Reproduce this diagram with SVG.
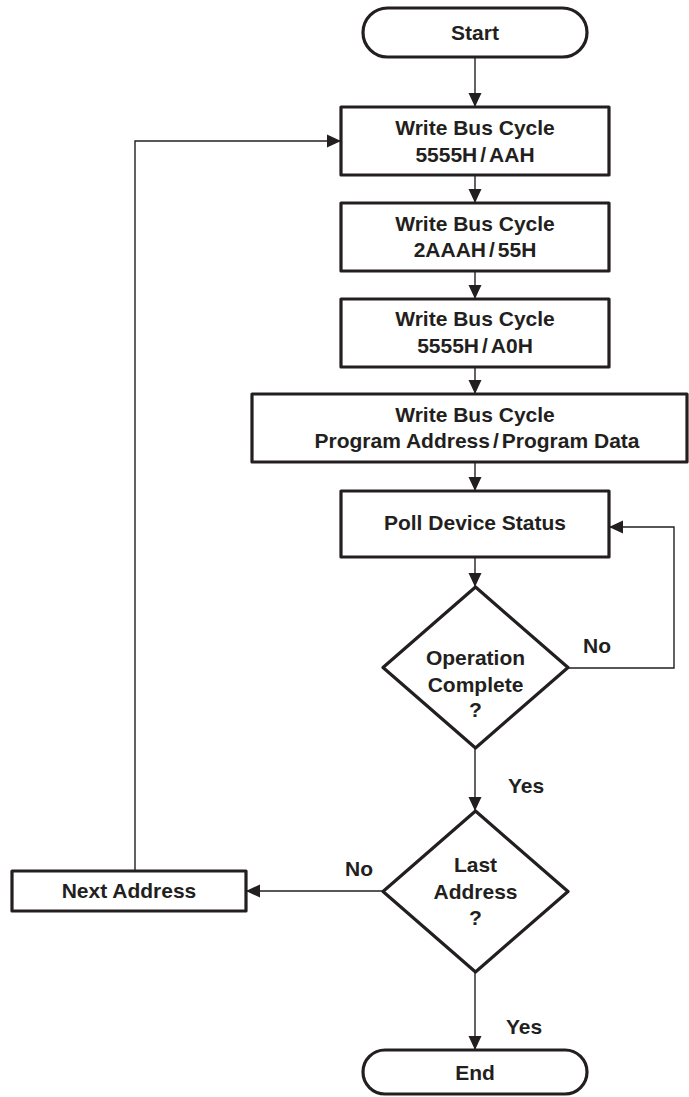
<svg xmlns="http://www.w3.org/2000/svg" width="689" height="1097" viewBox="0 0 689 1097">
<defs>
<marker id="arr" markerUnits="userSpaceOnUse" markerWidth="14" markerHeight="14" viewBox="0 0 14 14" refX="14" refY="7" orient="auto">
<path d="M0,0.5 L14,7 L0,13.5 Z" fill="#231f20"/>
</marker>
<style>
.box{fill:#fff;stroke:#231f20;stroke-width:3.2;stroke-linejoin:round}
.con{fill:none;stroke:#231f20;stroke-width:1.4}
text{font-family:"Liberation Sans",Arial,sans-serif;font-weight:bold;font-size:21px;fill:#231f20;text-anchor:middle}
.lbl{text-anchor:start}
</style>
</defs>
<g id="connectors">
<path class="con" d="M475,57 V107" marker-end="url(#arr)"/>
<path class="con" d="M475,175 V203" marker-end="url(#arr)"/>
<path class="con" d="M475,271 V299" marker-end="url(#arr)"/>
<path class="con" d="M475,367 V394" marker-end="url(#arr)"/>
<path class="con" d="M475,462 V491" marker-end="url(#arr)"/>
<path class="con" d="M475,557 V587" marker-end="url(#arr)"/>
<path class="con" d="M475,748 V811" marker-end="url(#arr)"/>
<path class="con" d="M475,972 V1050" marker-end="url(#arr)"/>
<path class="con" d="M568,668 H674 V527 H609" marker-end="url(#arr)"/>
<path class="con" d="M383,891 H246" marker-end="url(#arr)"/>
<path class="con" d="M135,871 V141 H341" marker-end="url(#arr)"/>
<text class="lbl" x="583" y="653">No</text>
<text class="lbl" x="508" y="793">Yes</text>
<text class="lbl" x="345" y="876">No</text>
<text class="lbl" x="506" y="1034">Yes</text>
</g>
<g id="start">
<rect class="box" x="363" y="8" width="224" height="49" rx="24.5"/>
<text x="475" y="40">Start</text>
</g>
<g id="write1">
<rect class="box" x="341" y="107" width="268" height="68"/>
<text x="475" y="135">Write Bus Cycle</text>
<text x="475" y="162">5555H<tspan dx="3">/</tspan><tspan dx="3">AAH</tspan></text>
</g>
<g id="write2">
<rect class="box" x="341" y="203" width="268" height="68"/>
<text x="475" y="231">Write Bus Cycle</text>
<text x="475" y="257">2AAAH<tspan dx="3">/</tspan><tspan dx="3">55H</tspan></text>
</g>
<g id="write3">
<rect class="box" x="341" y="299" width="268" height="68"/>
<text x="475" y="326">Write Bus Cycle</text>
<text x="475" y="353">5555H<tspan dx="3">/</tspan><tspan dx="3">A0H</tspan></text>
</g>
<g id="write4">
<rect class="box" x="252" y="394" width="435" height="68"/>
<text x="475" y="422">Write Bus Cycle</text>
<text x="477" y="448">Program Address<tspan dx="3">/</tspan><tspan dx="3">Program Data</tspan></text>
</g>
<g id="poll">
<rect class="box" x="341" y="491" width="268" height="66"/>
<text x="475" y="530">Poll Device Status</text>
</g>
<g id="opcomplete">
<path class="box" d="M475.5,587 L568,667.5 L475.5,748 L383,667.5 Z"/>
<text x="475.5" y="665">Operation</text>
<text x="475.5" y="692">Complete</text>
<text x="475.5" y="717">?</text>
</g>
<g id="lastaddr">
<path class="box" d="M475.5,811 L568,891.5 L475.5,972 L383,891.5 Z"/>
<text x="475.5" y="872">Last</text>
<text x="475.5" y="899">Address</text>
<text x="475.5" y="925">?</text>
</g>
<g id="nextaddr">
<rect class="box" x="12" y="871" width="234" height="40"/>
<text x="129" y="898">Next Address</text>
</g>
<g id="end">
<rect class="box" x="363" y="1050" width="224" height="44" rx="22"/>
<text x="475" y="1080">End</text>
</g>
</svg>
